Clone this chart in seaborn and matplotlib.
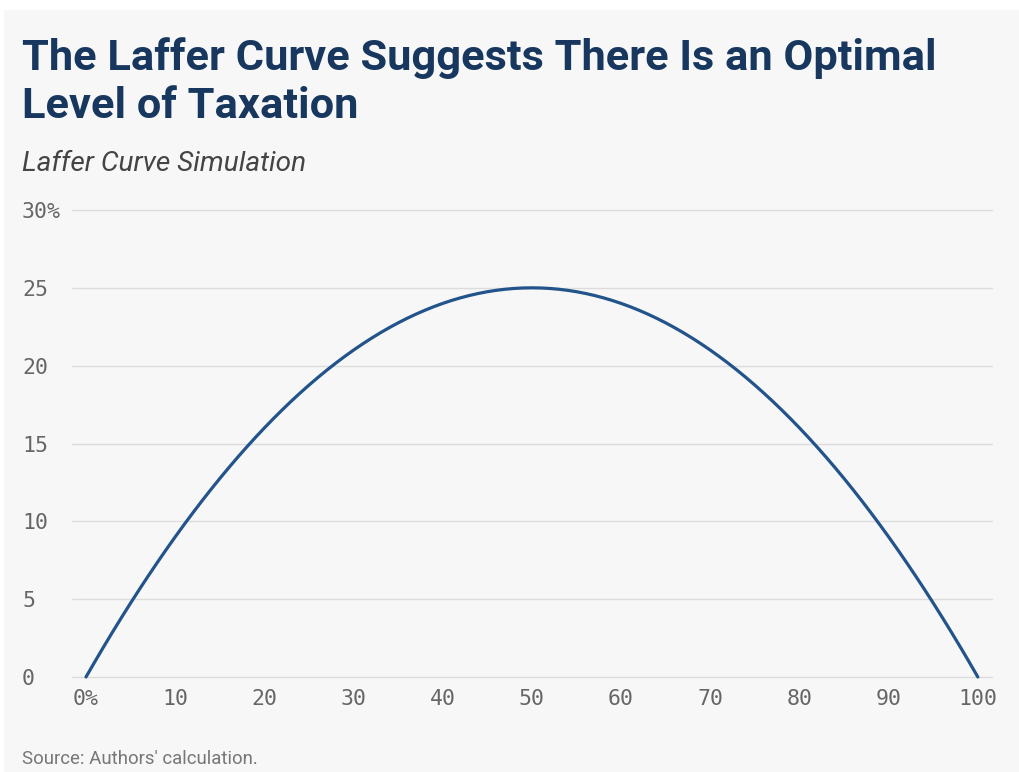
import matplotlib
matplotlib.use("Agg")
import matplotlib.pyplot as plt
from matplotlib.patches import Rectangle
import seaborn as sns
import pandas as pd

# Tax rate (%) and simulated tax revenue (% of base)
tax_rate = list(range(0, 101))
revenue_rising = [
    0.00, 0.99, 1.96, 2.91, 3.84, 4.75, 5.64, 6.51, 7.36, 8.19,
    9.00, 9.79, 10.56, 11.31, 12.04, 12.75, 13.44, 14.11, 14.76, 15.39,
    16.00, 16.59, 17.16, 17.71, 18.24, 18.75, 19.24, 19.71, 20.16, 20.59,
    21.00, 21.39, 21.76, 22.11, 22.44, 22.75, 23.04, 23.31, 23.56, 23.79,
    24.00, 24.19, 24.36, 24.51, 24.64, 24.75, 24.84, 24.91, 24.96, 24.99,
    25.00,
]
revenue_falling = [
    24.99, 24.96, 24.91, 24.84, 24.75, 24.64, 24.51, 24.36, 24.19, 24.00,
    23.79, 23.56, 23.31, 23.04, 22.75, 22.44, 22.11, 21.76, 21.39, 21.00,
    20.59, 20.16, 19.71, 19.24, 18.75, 18.24, 17.71, 17.16, 16.59, 16.00,
    15.39, 14.76, 14.11, 13.44, 12.75, 12.04, 11.31, 10.56, 9.79, 9.00,
    8.19, 7.36, 6.51, 5.64, 4.75, 3.84, 2.91, 1.96, 0.99, 0.00,
]
revenue = revenue_rising + revenue_falling

x_ticks = [0, 10, 20, 30, 40, 50, 60, 70, 80, 90, 100]
x_labels = ["0%", "10", "20", "30", "40", "50", "60", "70", "80", "90", "100"]
y_ticks = [0, 5, 10, 15, 20, 25, 30]
y_labels = ["0", "5", "10", "15", "20", "25", "30%"]

title_lines = ["The Laffer Curve Suggests There Is an Optimal", "Level of Taxation"]
subtitle = "Laffer Curve Simulation"
source = "Source: Authors' calculation."

df = pd.DataFrame({"rate": tax_rate, "revenue": revenue})

sns.set_theme(style="white")
plt.rcParams["font.family"] = ["Roboto", "DejaVu Sans"]

W, H = 1019, 772
fig = plt.figure(figsize=(W / 100, H / 100), dpi=100, facecolor="white")

# light panel behind the whole graphic
fig.patches.append(Rectangle((4 / W, 0), 1 - 4 / W, 1 - 10 / H,
                             transform=fig.transFigure, facecolor="#f7f7f7",
                             edgecolor="none", zorder=-10))

# plot box padded slightly so the 0 and 30 gridlines are not clipped
left, right, top, bottom = 72, 993, 205.33, 681.67
ax = fig.add_axes([left / W, 1 - bottom / H, (right - left) / W, (bottom - top) / H])
ax.set_facecolor("none")
ax.set_zorder(5)

sns.lineplot(data=df, x="rate", y="revenue", ax=ax, color="#22538a",
             linewidth=2.3, clip_on=False, zorder=3)

ax.set_xlim(-1.57, 101.7)
ax.set_ylim(-0.3, 30.3)
ax.set_xticks(x_ticks)
ax.set_xticklabels(x_labels)
ax.set_yticks(y_ticks)
ax.set_yticklabels(y_labels)
ax.set_xlabel("")
ax.set_ylabel("")

for s in ax.spines.values():
    s.set_visible(False)

ax.yaxis.grid(True, color="#dcdcdc", linewidth=1.0)
ax.xaxis.grid(False)
ax.set_axisbelow(True)

mono = ["DejaVu Sans Mono"]
ax.tick_params(axis="both", length=0, labelcolor="#666666", labelsize=15.5)
ax.tick_params(axis="y", pad=36)
ax.tick_params(axis="x", pad=5.5)
for lab in ax.get_yticklabels():
    lab.set_horizontalalignment("left")
    lab.set_family(mono)
for lab in ax.get_xticklabels():
    lab.set_family(mono)

for i, line in enumerate(title_lines):
    fig.text(22 / W, 1 - (70 + 48 * i) / H, line, ha="left", va="baseline",
             fontsize=31.2, fontweight="bold", color="#17375e")
fig.text(22 / W, 1 - 171 / H, subtitle, ha="left", va="baseline", fontsize=20.2,
         style="italic", color="#444444")
fig.text(22 / W, 1 - 764 / H, source, ha="left", va="baseline", fontsize=13.4,
         color="#777777")

fig.savefig("out.png", dpi=100, facecolor="white")
